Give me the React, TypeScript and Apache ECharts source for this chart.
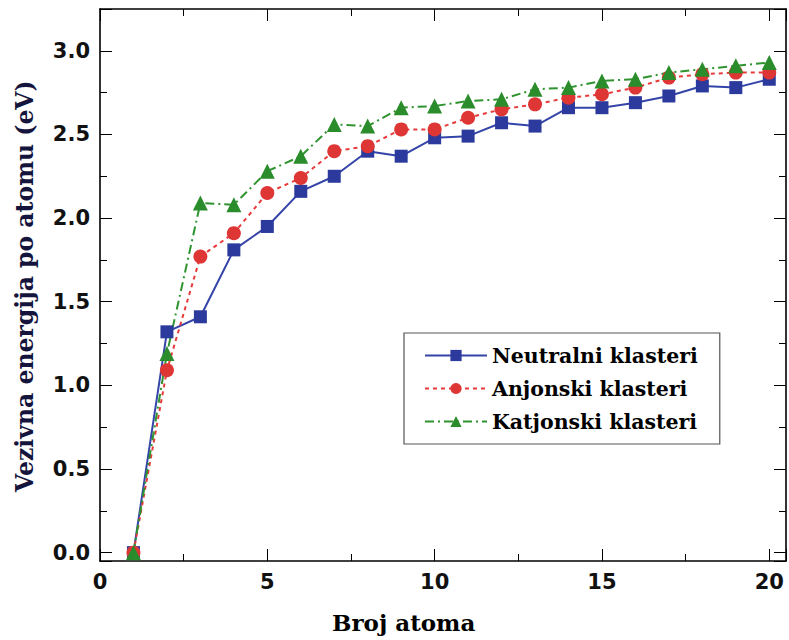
import React, { useEffect, useRef } from "react";
import * as echarts from "echarts";

const atomCounts = [1, 2, 3, 4, 5, 6, 7, 8, 9, 10, 11, 12, 13, 14, 15, 16, 17, 18, 19, 20];
const neutralni = [0, 1.32, 1.41, 1.81, 1.95, 2.16, 2.25, 2.40, 2.37, 2.48, 2.49, 2.57, 2.55, 2.66, 2.66, 2.69, 2.73, 2.79, 2.78, 2.83];
const anjonski = [0, 1.09, 1.77, 1.91, 2.15, 2.24, 2.40, 2.43, 2.53, 2.53, 2.60, 2.65, 2.68, 2.72, 2.74, 2.78, 2.84, 2.86, 2.87, 2.87];
const katjonski = [0, 1.19, 2.09, 2.08, 2.28, 2.37, 2.56, 2.55, 2.66, 2.67, 2.70, 2.71, 2.77, 2.78, 2.82, 2.83, 2.87, 2.89, 2.91, 2.93];
const seriesNames = ["Neutralni klasteri", "Anjonski klasteri", "Katjonski klasteri"];
const xTickLabels = ["0", "5", "10", "15", "20"];
const yTickLabels = ["0.0", "0.5", "1.0", "1.5", "2.0", "2.5", "3.0"];
const xTitle = "Broj atoma";
const yTitle = "Vezivna energija po atomu (eV)";

const pairs = (ys: number[]) => atomCounts.map((x, i) => [x, ys[i]]);

export default function App() {
  const ref = useRef<HTMLDivElement>(null);
  useEffect(() => {
    if (!ref.current) return;
    const chart = echarts.init(ref.current, undefined, { renderer: "svg" });
    const labelFont = () => ({ fontFamily: "DejaVu Sans", fontWeight: "bold" as const, fontSize: 21, color: "#111" });
    const tick = () => ({ show: true, inside: true, length: 12 });
    const minor = () => ({ show: true, splitNumber: 2, length: 7 });
    const line = () => ({ show: true, onZero: false, lineStyle: { color: "#000", width: 1.6 } });
    const xFmt = (v: number) => {
      const s = String(Math.round(v));
      return Math.abs(v - Math.round(v)) < 1e-6 && xTickLabels.includes(s) ? s : "";
    };
    const yFmt = (v: number) => {
      const s = v.toFixed(1);
      return Math.abs(v * 2 - Math.round(v * 2)) < 1e-6 && yTickLabels.includes(s) ? s : "";
    };
    const titleFont = { fontFamily: "DejaVu Serif", fontWeight: "bold", fontSize: 23 };
    chart.setOption({
      animation: false,
      grid: { left: 100, top: 9, right: 2, bottom: 79 },
      graphic: [
        {
          type: "text",
          left: 402 - 70,
          top: 611,
          style: { text: xTitle, fill: "#000", ...titleFont },
        },
        {
          type: "text",
          x: 13,
          y: 492,
          rotation: Math.PI / 2,
          style: { text: yTitle, fill: "#14143c", ...titleFont, fontSize: 23.5, verticalAlign: "top", align: "left" },
        },
      ],
      legend: {
        data: seriesNames,
        orient: "vertical",
        left: 404,
        top: 333,
        backgroundColor: "#fff",
        borderColor: "#555",
        borderWidth: 1.2,
        padding: [12, 22, 12, 20],
        itemGap: 12,
        itemWidth: 62,
        itemHeight: 14,
        textStyle: { fontFamily: "DejaVu Serif", fontWeight: "bold", fontSize: 20.5, color: "#000" },
      },
      xAxis: [
        {
          type: "value",
          min: 0,
          max: 20.5,
          interval: 5,
          position: "bottom",
          axisLine: line(),
          axisTick: tick(),
          minorTick: minor(),
          axisLabel: { ...labelFont(), margin: 10, formatter: xFmt },
          splitLine: { show: false },
        },
        {
          type: "value",
          min: 0,
          max: 20.5,
          interval: 5,
          position: "top",
          axisLine: line(),
          axisTick: tick(),
          minorTick: minor(),
          axisLabel: { show: false },
          splitLine: { show: false },
        },
      ],
      yAxis: [
        {
          type: "value",
          min: -0.05,
          max: 3.25,
          splitNumber: 7,
          position: "left",
          axisLine: line(),
          axisTick: tick(),
          minorTick: minor(),
          axisLabel: { ...labelFont(), margin: 10, formatter: yFmt },
          splitLine: { show: false },
        },
        {
          type: "value",
          min: -0.05,
          max: 3.25,
          splitNumber: 7,
          position: "right",
          axisLine: line(),
          axisTick: tick(),
          minorTick: minor(),
          axisLabel: { show: false },
          splitLine: { show: false },
        },
      ],
      series: [
        {
          name: seriesNames[0],
          type: "line",
          data: pairs(neutralni),
          symbol: "rect",
          symbolSize: 13,
          color: "#2b3a9c",
          itemStyle: { color: "#2b3a9c" },
          lineStyle: { color: "#3444a8", width: 2, type: "solid" },
        },
        {
          name: seriesNames[1],
          type: "line",
          data: pairs(anjonski),
          symbol: "circle",
          symbolSize: 14,
          color: "#de3535",
          itemStyle: { color: "#de3535" },
          lineStyle: { color: "#e83a3a", width: 2, type: [4, 4] },
        },
        {
          name: seriesNames[2],
          type: "line",
          data: pairs(katjonski),
          symbol: "triangle",
          symbolSize: 15,
          color: "#2a8c2a",
          itemStyle: { color: "#2a8c2a" },
          lineStyle: { color: "#2f942f", width: 2, type: [9, 4, 2, 4] },
        },
      ],
    });
    return () => chart.dispose();
  }, []);
  return <div ref={ref} style={{ position: "fixed", left: 0, top: 0, width: 789, height: 640, background: "#fff" }} />;
}
